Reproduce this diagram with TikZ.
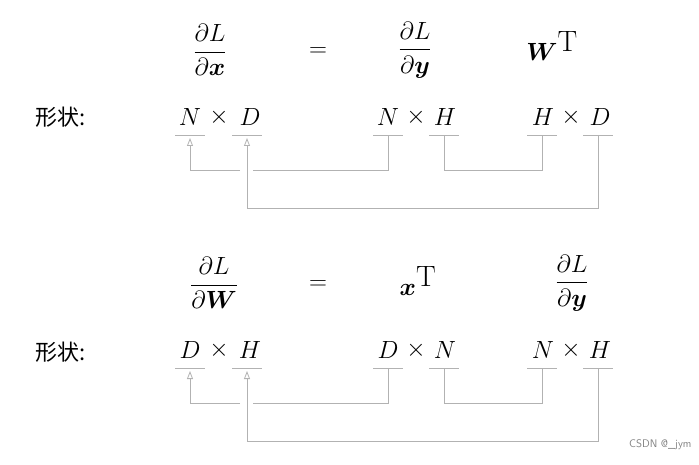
\documentclass[tikz,border=0pt]{standalone}
\usepackage{amsmath,bm}
\usepackage{fontspec}
\newfontfamily\cjk{Noto Sans CJK SC}
\usetikzlibrary{arrows.meta}
\begin{document}
\begin{tikzpicture}[x=1pt,y=-1pt,
  big/.style={font=\fontsize{42}{48}\selectfont,inner sep=0pt},
  frac/.style={font=\fontsize{30}{34}\selectfont,inner sep=0pt},
  lab/.style={font=\fontsize{22}{26}\selectfont\cjk,inner sep=0pt,anchor=west},
  ul/.style={draw=gray!60,line width=0.8pt},
  con/.style={draw=gray!60,line width=0.8pt},
  arr/.style={con,-{Triangle[open,length=8pt,width=6pt]}}]
\useasboundingbox (0,0) rectangle (699,465);
\foreach \o/\r in {0/1,235/2}{
  \node[lab] (lab\r) at (35,{117+\o}) {形状:};
}
% row 1
\node[frac] (f1) at (210,50) {$\dfrac{\partial L}{\partial \bm{x}}$};
\node[big] (eq1) at (318,52) {$=$};
\node[frac] (f2) at (415,50) {$\dfrac{\partial L}{\partial \bm{y}}$};
\node[big] (wt) at (552,46) {$\bm{W}^{\mathrm{T}}$};
% row 2
\node[frac] (g1) at (214,283) {$\dfrac{\partial L}{\partial \bm{W}}$};
\node[big] (eq2) at (318,285) {$=$};
\node[big] (xt) at (418,281) {$\bm{x}^{\mathrm{T}}$};
\node[frac] (g2) at (572,283) {$\dfrac{\partial L}{\partial \bm{y}}$};
% shapes
\foreach \dy/\r/\la/\lb/\lc/\ld/\le/\lf in {0/a/N/D/N/H/H/D,233/b/D/H/D/N/N/H}{
  \node[big] (\r1) at (190,{117+\dy}) {$\la$};
  \node[big] (\r x1) at (219,{117+\dy}) {$\times$};
  \node[big] (\r2) at (250,{117+\dy}) {$\lb$};
  \node[big] (\r3) at (388,{117+\dy}) {$\lc$};
  \node[big] (\r x2) at (416,{117+\dy}) {$\times$};
  \node[big] (\r4) at (445,{117+\dy}) {$\ld$};
  \node[big] (\r5) at (543,{117+\dy}) {$\le$};
  \node[big] (\r x3) at (571,{117+\dy}) {$\times$};
  \node[big] (\r6) at (600,{117+\dy}) {$\lf$};
  \foreach \i/\xx in {1/190,2/247,3/388,4/444,5/542,6/598}{
    \coordinate (\r u\i) at (\xx,{135+\dy});
    \draw[ul] ([xshift=-15pt]\r u\i) -- ([xshift=15pt]\r u\i);
  }
  \coordinate (\r h1) at (240,{170+\dy});
  \coordinate (\r h2) at (253,{170+\dy});
  \draw[arr] (\r h1) -| ([yshift=-3pt]\r u1);
  \draw[con] (\r h2) -| (\r u3);
  \draw[con] (\r u4) |- ([yshift=-35pt]\r u5) -- (\r u5);
  \draw[arr] (\r u6) |- ([yshift=-73pt]\r u2) -- ([yshift=-3pt]\r u2);
}
\node[font=\fontsize{11}{13}\selectfont\sffamily,text=gray,anchor=east] (wm) at (695,445) {CSDN @\_jym};
\end{tikzpicture}
\end{document}
